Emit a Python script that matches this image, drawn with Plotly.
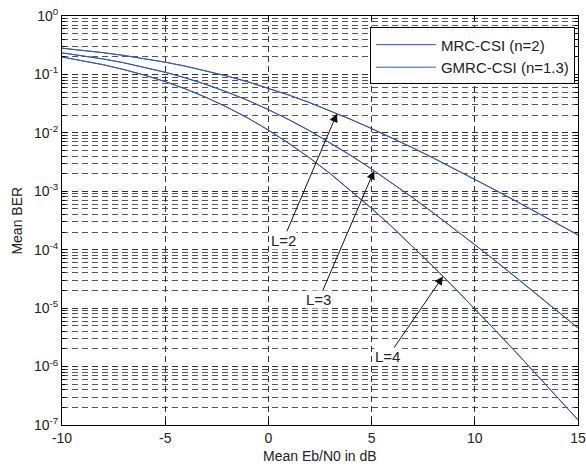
import math
import plotly.graph_objects as go

ebn0_db = [-10, -9, -8, -7, -6, -5, -4, -3, -2, -1, 0, 1, 2, 3, 4, 5, 6, 7, 8, 9, 10, 11, 12, 13, 14, 15]

mrc_L2 = [0.2807, 0.2586, 0.2352, 0.2111, 0.1864, 0.1618, 0.1378, 0.1149, 0.0937, 0.0746, 0.0581, 0.0441,
          0.0328, 0.0238, 0.0169, 0.0118, 0.00813, 0.00551, 0.00368, 0.00244, 0.00160, 0.00104, 0.000674,
          0.000434, 0.000278, 0.000178]
mrc_L3 = [0.2340, 0.2091, 0.1836, 0.1579, 0.1328, 0.1088, 0.0866, 0.0668, 0.0498, 0.0359, 0.0249, 0.0167,
          0.0108, 0.00673, 0.00407, 0.00240, 0.00137, 0.000769, 0.000422, 0.000228, 0.000122, 6.41e-5,
          3.34e-5, 1.73e-5, 8.90e-6, 4.56e-6]
mrc_L4 = [0.1986, 0.1725, 0.1464, 0.1210, 0.0970, 0.0752, 0.0561, 0.0401, 0.0274, 0.0179, 0.0111, 0.00656,
          0.00370, 0.00199, 0.00102, 0.000507, 0.000243, 0.000112, 5.08e-5, 2.24e-5, 9.70e-6, 4.13e-6,
          1.74e-6, 7.23e-7, 2.98e-7, 1.22e-7]

gmrc_L2 = [0.2815, 0.2590, 0.2360, 0.2115, 0.1870, 0.1625, 0.1382, 0.1152, 0.0940, 0.0750, 0.0583, 0.0443,
           0.0330, 0.0239, 0.0170, 0.0119, 0.00818, 0.00554, 0.00371, 0.00246, 0.00161, 0.00105, 0.000680,
           0.000438, 0.000281, 0.000180]
gmrc_L3 = [0.2345, 0.2096, 0.1841, 0.1584, 0.1333, 0.1092, 0.0870, 0.0671, 0.0500, 0.0361, 0.0250, 0.0168,
           0.0109, 0.00678, 0.00410, 0.00242, 0.00138, 0.000775, 0.000426, 0.000230, 0.000123, 6.47e-5,
           3.37e-5, 1.75e-5, 8.98e-6, 4.60e-6]
gmrc_L4 = [0.1990, 0.1730, 0.1468, 0.1214, 0.0974, 0.0755, 0.0564, 0.0403, 0.0276, 0.0180, 0.0112, 0.00660,
           0.00373, 0.00201, 0.00103, 0.000512, 0.000245, 0.000113, 5.13e-5, 2.26e-5, 9.80e-6, 4.17e-6,
           1.76e-6, 7.30e-7, 3.01e-7, 1.23e-7]

legend_names = ["MRC-CSI (n=2)", "GMRC-CSI (n=1.3)"]

x_ticks = [-10, -5, 0, 5, 10, 15]
y_tick_exps = [0, -1, -2, -3, -4, -5, -6, -7]

x_title = "Mean Eb/N0 in dB"
y_title = "Mean BER"

labels = ["L=2", "L=3", "L=4"]
label_target_x = [3.32, 5.12, 8.46]
label_text_x = [0.71, 2.45, 5.79]
label_text_logy = [-3.84, -4.85, -5.83]

font_family = "Liberation Sans, Arial, sans-serif"

fig = go.Figure()
for i, (name, series) in enumerate([(legend_names[0], [mrc_L2, mrc_L3, mrc_L4]),
                                    (legend_names[1], [gmrc_L2, gmrc_L3, gmrc_L4])]):
    for j, ys in enumerate(series):
        fig.add_trace(go.Scatter(
            x=ebn0_db, y=ys, mode="lines", name=name,
            legendgroup=name, showlegend=(j == 0),
            line=dict(color="#2F50B2" if i == 0 else "#3858B6", width=1),
        ))


def curve_at(xs, ys, xv):
    for k in range(len(xs) - 1):
        if xs[k] <= xv <= xs[k + 1]:
            t = (xv - xs[k]) / (xs[k + 1] - xs[k])
            return math.log10(ys[k]) * (1 - t) + math.log10(ys[k + 1]) * t
    return math.log10(ys[-1])


curves = [mrc_L2, mrc_L3, mrc_L4]
for k in range(3):
    ty = curve_at(ebn0_db, curves[k], label_target_x[k])
    fig.add_annotation(
        x=label_target_x[k], y=ty, xref="x", yref="y",
        ax=label_text_x[k], ay=label_text_logy[k], axref="x", ayref="y",
        text=labels[k], showarrow=True, arrowhead=2, arrowsize=1.7, arrowwidth=1,
        arrowcolor="#111", bgcolor="white", font=dict(family=font_family, size=15, color="#222"),
        borderpad=0, standoff=0,
    )

# axis titles
fig.add_annotation(text=x_title, xref="paper", yref="paper", x=0.5, y=-0.076,
                   xanchor="center", yanchor="middle", showarrow=False,
                   font=dict(family=font_family, size=14, color="#222"))
fig.add_annotation(text=y_title, xref="paper", yref="paper", x=-0.089, y=0.5,
                   xanchor="center", yanchor="middle", showarrow=False, textangle=-90,
                   font=dict(family=font_family, size=14, color="#222"))

minor_vals = [m * 10 ** e for e in range(-7, 0) for m in range(2, 10)]

grid_major = "#333333"
grid_minor = "#555555"

fig.update_layout(
    width=586, height=468,
    margin=dict(l=62, r=8, t=16, b=43, autoexpand=False),
    paper_bgcolor="white", plot_bgcolor="white",
    font=dict(family=font_family, size=14, color="#222"),
    showlegend=True,
    legend=dict(x=0.994, y=0.972, xanchor="right", yanchor="top",
                bgcolor="white", bordercolor="black", borderwidth=1,
                font=dict(family=font_family, size=15, color="#222"),
                itemwidth=60, tracegroupgap=0),
    xaxis=dict(
        range=[-10, 15], tickvals=x_ticks, ticktext=[str(v) for v in x_ticks],
        showgrid=True, gridcolor=grid_major, griddash="6px,4px", gridwidth=1,
        ticks="inside", ticklen=5, tickcolor="black",
        showline=True, linecolor="black", linewidth=1, mirror="ticks",
        zeroline=False, automargin=False,
        tickfont=dict(size=14),
    ),
    yaxis=dict(
        type="log", range=[-7, 0],
        tickvals=[10 ** e for e in y_tick_exps],
        ticktext=["10<sup>%d</sup>" % e for e in y_tick_exps],
        showgrid=True, gridcolor=grid_major, griddash="6px,4px", gridwidth=1,
        ticks="inside", ticklen=5, tickcolor="black",
        showline=True, linecolor="black", linewidth=1, mirror="ticks",
        zeroline=False, automargin=False,
        minor=dict(tickvals=minor_vals, showgrid=True, gridcolor=grid_minor,
                   griddash="6px,4px", gridwidth=1, ticks="inside", ticklen=3, tickcolor="black"),
        tickfont=dict(size=14),
    ),
)

fig.write_html(
    "out.html",
    config={"displayModeBar": False, "responsive": False},
    post_script="document.body.style.margin='0';document.body.style.overflow='hidden';"
                "document.documentElement.style.overflow='hidden';",
)
